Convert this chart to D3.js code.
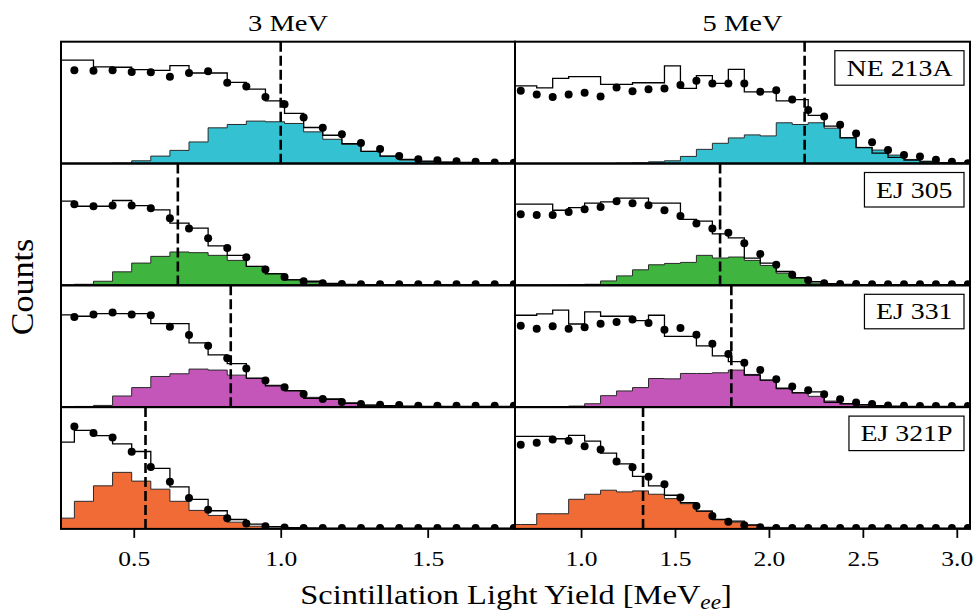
<!DOCTYPE html>
<html><head><meta charset="utf-8">
<script src="https://cdn.jsdelivr.net/npm/d3@7"></script>
<style>
body{margin:0;background:#fff;}
text{font-family:"Liberation Serif","Times New Roman",serif;fill:#000;}
</style></head>
<body><svg id="chart" width="975" height="613"></svg>
<script>
// ---------------- data ----------------
const energies = ["3 MeV", "5 MeV"];
const detectors = ["NE 213A", "EJ 305", "EJ 331", "EJ 321P"];
const fillColors = ["#34c2d3", "#3fb43f", "#c456ba", "#f06b35"];

// bin edges of the light-yield histograms [MeVee]
const binEdges3 = [0.233, 0.298, 0.363, 0.428, 0.493, 0.558, 0.623, 0.688, 0.753, 0.818, 0.883, 0.948, 1.013,
  1.078, 1.143, 1.208, 1.273, 1.338, 1.403, 1.468, 1.533, 1.598, 1.663, 1.728, 1.793, 1.858];
const binEdges5 = [0.594, 0.679, 0.764, 0.849, 0.934, 1.019, 1.104, 1.189, 1.274, 1.359, 1.444, 1.529, 1.614,
  1.699, 1.784, 1.869, 1.954, 2.039, 2.124, 2.209, 2.294, 2.379, 2.464, 2.549, 2.634, 2.719, 2.804, 2.889,
  2.974, 3.059, 3.144];

const ticks3 = [0.5, 1.0, 1.5];
const ticks5 = [1.0, 1.5, 2.0, 2.5, 3.0];

// measured counts (points), at the inner bin edges
const measNE213A_3 = [277, 276, 277, 272, 271, 258, 269, 274, 240, 229, 198, 176, 137, 106, 87, 61, 43, 22, 13, 10, 7, 5, 3, 2];
const measNE213A_5 = [216, 205, 198, 205, 210, 199, 226, 215, 221, 223, 233, 246, 238, 238, 238, 213, 218, 190, 159, 140, 115, 89, 63, 40, 25, 21, 11, 5, 1];
const measEJ305_3 = [241, 235, 237, 237, 229, 199, 169, 140, 111, 83, 47, 25, 12, 6, 4, 3, 3, 3, 3, 3, 3, 3, 3, 3];
const measEJ305_5 = [211, 209, 209, 218, 226, 233, 250, 244, 238, 223, 206, 184, 169, 156, 125, 93, 61, 31, 15, 6, 4, 4, 3, 3, 3, 3, 3, 3, 3];
const measEJ331_3 = [268, 275, 281, 275, 273, 239, 214, 182, 145, 115, 79, 59, 39, 24, 15, 9, 7, 6, 4, 4, 4, 4, 4, 4];
const measEJ331_5 = [242, 233, 240, 233, 237, 248, 253, 260, 250, 230, 235, 215, 188, 158, 132, 110, 83, 61, 50, 38, 23, 14, 9, 5, 4, 3, 3, 3, 3];
const measEJ321P_3 = [304, 285, 272, 229, 184, 140, 92, 57, 32, 16, 8, 4, 3, 3, 3, 3, 3, 3, 3, 3, 3, 3, 3, 3];
const measEJ321P_5 = [250, 256, 266, 262, 246, 236, 200, 183, 155, 133, 93, 68, 38, 21, 11, 5, 3, 3, 3, 3, 3, 3, 3, 3, 3, 3, 3, 3, 3];

// simulated total (open step histogram), one value per bin
const simNE213A_3 = [307, 307, 287, 286, 279, 277, 291, 269, 269, 241, 221, 186, 149, 107, 84, 59, 36, 22, 12, 7, 4, 3, 2, 1, 1];
const simNE213A_5 = [231, 231, 225, 253, 258, 258, 235, 235, 240, 240, 290, 223, 261, 238, 280, 213, 213, 186, 190, 143, 111, 76, 47, 31, 18, 10, 5, 2, 1, 0];
const simEJ305_3 = [250, 235, 235, 252, 237, 224, 185, 170, 117, 89, 56, 34, 16, 12, 6, 3, 2, 1, 1, 1, 1, 1, 1, 1, 1];
const simEJ305_5 = [241, 241, 241, 223, 231, 244, 248, 259, 259, 244, 244, 196, 191, 153, 141, 81, 66, 41, 23, 11, 5, 3, 2, 2, 2, 2, 2, 2, 2, 2];
const simEJ331_3 = [274, 270, 278, 278, 278, 248, 248, 191, 155, 129, 86, 63, 49, 26, 23, 11, 6, 4, 3, 2, 2, 2, 2, 2, 2];
const simEJ331_5 = [273, 273, 277, 288, 247, 283, 270, 270, 257, 273, 210, 210, 182, 152, 135, 95, 80, 55, 42, 45, 14, 10, 7, 4, 3, 2, 2, 2, 2, 2];
const simEJ321P_3 = [258, 293, 277, 253, 230, 180, 125, 88, 54, 28, 14, 7, 4, 3, 2, 2, 2, 2, 2, 2, 2, 2, 2, 2, 2];
const simEJ321P_5 = [275, 275, 275, 268, 278, 261, 225, 193, 156, 128, 100, 78, 53, 28, 23, 11, 4, 3, 2, 2, 2, 2, 2, 2, 2, 2, 2, 2, 2, 2];

// filled component histogram, one value per bin
const compNE213A_3 = [0, 0, 0, 1, 8, 22, 39, 64, 106, 116, 126, 124, 119, 94, 72, 57, 36, 22, 10, 6, 4, 2, 1, 1, 0];
const compNE213A_5 = [0, 0, 0, 0, 0, 0, 0, 1, 2, 5, 8, 21, 42, 60, 76, 85, 82, 121, 116, 121, 105, 77, 48, 40, 25, 12, 7, 3, 1, 0];
const compEJ305_3 = [0, 3, 12, 40, 66, 86, 99, 97, 89, 74, 56, 35, 17, 9, 4, 2, 1, 1, 0, 0, 0, 0, 0, 0, 0];
const compEJ305_5 = [0, 0, 0, 1, 2, 3, 13, 28, 46, 61, 65, 68, 89, 81, 84, 74, 59, 36, 21, 7, 2, 1, 0, 0, 0, 0, 0, 0, 0, 0];
const compEJ331_3 = [0, 2, 5, 33, 58, 91, 99, 113, 110, 95, 85, 65, 48, 29, 25, 13, 6, 3, 2, 1, 0, 0, 0, 0, 0];
const compEJ331_5 = [0, 0, 0, 1, 3, 10, 34, 48, 58, 85, 84, 100, 100, 102, 110, 97, 80, 57, 43, 32, 18, 10, 7, 3, 1, 0, 0, 0, 0, 0];
const compEJ321P_3 = [32, 82, 128, 168, 142, 118, 82, 55, 40, 20, 8, 3, 1, 0, 0, 0, 0, 0, 0, 0, 0, 0, 0, 0, 0];
const compEJ321P_5 = [13, 13, 45, 45, 88, 103, 115, 110, 113, 103, 90, 75, 53, 28, 20, 12, 5, 2, 0, 0, 0, 0, 0, 0, 0, 0, 0, 0, 0, 0];

// vertical dashed markers [MeVee]
const markers3 = [1.00, 0.65, 0.83, 0.54];
const markers5 = [2.19, 1.74, 1.80, 1.33];

const meas = [[measNE213A_3, measNE213A_5], [measEJ305_3, measEJ305_5], [measEJ331_3, measEJ331_5], [measEJ321P_3, measEJ321P_5]];
const sims = [[simNE213A_3, simNE213A_5], [simEJ305_3, simEJ305_5], [simEJ331_3, simEJ331_5], [simEJ321P_3, simEJ321P_5]];
const comps = [[compNE213A_3, compNE213A_5], [compEJ305_3, compEJ305_5], [compEJ331_3, compEJ331_5], [compEJ321P_3, compEJ321P_5]];
const markers = [markers3, markers5];
const edgesByCol = [binEdges3, binEdges5];
const ticksByCol = [ticks3, ticks5];

// ---------------- layout ----------------
const svg = d3.select("#chart");
const colX = [[61, 515], [515, 970]];
const top0 = 41.7, rowH = 121.8;
const xScales = [
  d3.scaleLinear().domain([0.2525, 1.797]).range(colX[0]),
  d3.scaleLinear().domain([0.6484, 3.0703]).range(colX[1])
];
const yMax = 362;
const SX = 1.16; // horizontal widening of the serif type

function stepPoints(edges, vals) {
  return edges.map((e, k) => [e, vals[Math.min(k, vals.length - 1)]]);
}

detectors.forEach((det, r) => {
  const y0 = top0 + r * rowH, y1 = y0 + rowH;
  const y = d3.scaleLinear().domain([0, yMax]).range([y1, y0]);
  [0, 1].forEach(c => {
    const x = xScales[c];
    const edges = edgesByCol[c];
    const id = `clip${r}${c}`;
    svg.append("clipPath").attr("id", id).append("rect")
      .attr("x", colX[c][0]).attr("y", y0).attr("width", colX[c][1] - colX[c][0]).attr("height", rowH);
    const g = svg.append("g").attr("clip-path", `url(#${id})`);

    const comp = stepPoints(edges, comps[r][c]);
    g.append("path").datum(comp)
      .attr("d", d3.area().curve(d3.curveStepAfter).x(d => x(d[0])).y0(y(0)).y1(d => y(d[1])))
      .attr("fill", fillColors[r]);
    g.append("path").datum(comp)
      .attr("d", d3.line().curve(d3.curveStepAfter).x(d => x(d[0])).y(d => y(d[1])))
      .attr("fill", "none").attr("stroke", "#2a2a2a").attr("stroke-width", 1);

    const sim = stepPoints(edges, sims[r][c]);
    g.append("path").datum(sim)
      .attr("d", d3.line().curve(d3.curveStepAfter).x(d => x(d[0])).y(d => y(d[1])))
      .attr("fill", "none").attr("stroke", "#000").attr("stroke-width", 1.3);

    const m = markers[c][r];
    g.append("line").attr("x1", x(m)).attr("x2", x(m)).attr("y1", y0).attr("y2", y1)
      .attr("stroke", "#000").attr("stroke-width", 2.6).attr("stroke-dasharray", "10,4");

    const centers = edges.slice(1, edges.length - 1);
    g.selectAll("circle.pt").data(meas[r][c]).join("circle")
      .attr("cx", (d, i) => x(centers[i])).attr("cy", d => y(d)).attr("r", 4).attr("fill", "#000");

    svg.append("rect").attr("x", colX[c][0]).attr("y", y0)
      .attr("width", colX[c][1] - colX[c][0]).attr("height", rowH)
      .attr("fill", "none").attr("stroke", "#000").attr("stroke-width", 2);

    if (c === 1) {
      const pad = 11.5;
      const tx = 964 - pad;
      const lg = svg.append("g");
      const tg = lg.append("g").attr("transform", `translate(${tx},${y0 + 34}) scale(${SX},1)`);
      const txt = tg.append("text").attr("text-anchor", "end").attr("font-size", 24).text(det);
      const w = txt.node().getBBox().width * SX;
      lg.insert("rect", "g").attr("x", tx - w - pad).attr("y", y0 + 9)
        .attr("width", w + 2 * pad).attr("height", 34.5)
        .attr("fill", "#fff").attr("stroke", "#000").attr("stroke-width", 1.2);
    }
  });
});

// bottom axes
const yBot = top0 + 4 * rowH;
[0, 1].forEach(c => {
  const ax = svg.append("g").attr("transform", `translate(0,${yBot})`)
    .call(d3.axisBottom(xScales[c]).tickValues(ticksByCol[c]).tickFormat(d3.format(".1f")).tickSize(9).tickPadding(28));
  ax.select(".domain").remove();
  ax.selectAll(".tick line").attr("stroke", "#000").attr("stroke-width", 1.8);
  ax.selectAll(".tick text").attr("font-size", 22).attr("dy", 0).attr("y", 37.5)
    .attr("transform", `scale(${SX},1)`);
});

// column titles
energies.forEach((t, c) => {
  svg.append("g").attr("transform", `translate(${(colX[c][0] + colX[c][1]) / 2},30.5) scale(1.19,1)`)
    .append("text").attr("text-anchor", "middle").attr("font-size", 24).text(t);
});

// axis labels
const xg = svg.append("g").attr("transform", `translate(516,604) scale(${SX},1)`);
const xl = xg.append("text").attr("text-anchor", "middle").attr("font-size", 28);
xl.append("tspan").text("Scintillation Light Yield [MeV");
xl.append("tspan").attr("font-style", "italic").attr("font-size", 20).attr("dy", 5).text("ee");
xl.append("tspan").attr("dy", -5).text("]");

svg.append("g").attr("transform", "translate(33,287) rotate(-90) scale(1.1,1)")
  .append("text").attr("text-anchor", "middle").attr("font-size", 31).text("Counts");
</script>
</body></html>
